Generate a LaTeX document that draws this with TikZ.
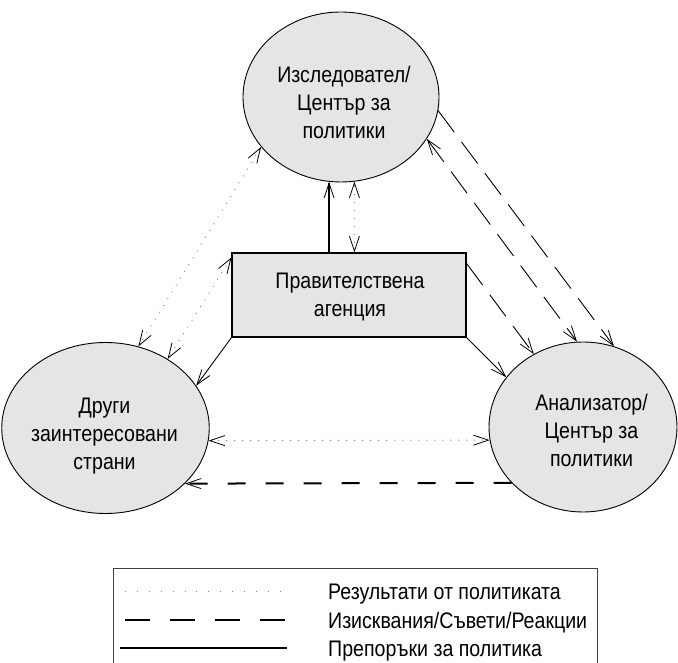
\documentclass[tikz,border=0pt]{standalone}
\usepackage{fontspec}
\setmainfont{Liberation Sans}[FakeStretch=0.87]
\usetikzlibrary{arrows.meta,shapes.geometric,calc}
\newcommand\celltext[3]{\raisebox{#2}[0pt][0pt]{\hspace*{#1}\begin{tabular}{@{}c@{}}#3\end{tabular}\hspace*{-#1}}}
\begin{document}
\begin{tikzpicture}[x=1pt,y=-1pt,
  >={Straight Barb[length=15pt,width=10pt,line width=0.8pt,color=black]},
  txt/.style={font=\fontsize{22.5}{28}\selectfont},
  ell/.style={ellipse,draw=black,line width=0.9pt,fill=gray!20,inner sep=0pt,txt},
  box/.style={rectangle,draw=black,line width=1.1pt,fill=gray!20,inner sep=0pt,txt},
  sol/.style={draw=black,line width=0.9pt},
  solthick/.style={draw=black,line width=1.8pt},
  dotl/.style={draw=gray,line width=0.9pt,dash pattern=on 0.9pt off 7.1pt},
  dashthin/.style={draw=black,line width=0.9pt,dash pattern=on 27pt off 12pt},
  dashthick/.style={draw=black,line width=2pt,dash pattern=on 18pt off 20pt},
  legtext/.style={txt,inner sep=0pt,anchor=base west}
]
\useasboundingbox (0,0) rectangle (678,663);

\node[ell,minimum width=196pt,minimum height=170pt] (T) at (341,97) {\celltext{3pt}{-13pt}{Изследовател/\\Център за\\политики}};
\node[ell,minimum width=197pt,minimum height=171pt] (L) at (105.5,428) {\celltext{-1pt}{-13pt}{Други\\заинтересовани\\страни}};
\node[ell,minimum width=188pt,minimum height=170pt] (A) at (583,427) {\celltext{8.5pt}{-11.5pt}{Анализатор/\\Център за\\политики}};
\node[box,minimum width=234pt,minimum height=84pt] (R) at (349,295) {\celltext{1pt}{-7.5pt}{Правителствена\\агенция}};

% connectors
\draw[solthick,->] (T.-98.7 |- R.north) -- (T.-98.7);
\draw[dotl,<->] (T.-81.25 |- R.north) -- (T.-81.25);
\draw[dotl,<->] (T.-148.3) -- (L.68.7);
\draw[dotl,<->] ([yshift=-5pt]R.north west) -- (L.48.9);
\draw[sol,->] (R.south west) -- (L.25.5);
\draw[sol,->] (R.south east) -- (A.147.5);
\draw[dotl,<->] (L.-7) -- (A.-172);
\draw[dashthick,->] (A.-142.5) -- (L.-35.1);
\draw[dashthin,->] (T.-8.8) -- (A.69.9);
\draw[dashthin,<->] (T.-26.3) -- (A.94);
\draw[dashthin,->] ([yshift=-11pt]R.north east) -- (A.124);

% legend
\draw[draw=black!75,line width=1pt] (113,670) -- (113,568) -- (597,568) -- (597,670);
\coordinate (d1) at (125,591); \coordinate (d2) at (287,591);
\coordinate (e1) at (125,620); \coordinate (e2) at (287,620);
\coordinate (f1) at (120,648); \coordinate (f2) at (287,648);
\draw[draw=gray,line width=0.9pt,dash pattern=on 0.9pt off 11pt] (d1) -- (d2);
\draw[draw=black,line width=2pt,dash pattern=on 25pt off 20pt] (e1) -- (e2);
\draw[draw=black,line width=2pt] (f1) -- (f2);
\node[legtext] (l1) at (328,599) {Результати от политиката};
\node[legtext] (l2) at (328,628) {Изисквания/Съвети/Реакции};
\node[legtext] (l3) at (328,656) {Препоръки за политика};
\end{tikzpicture}
\end{document}
